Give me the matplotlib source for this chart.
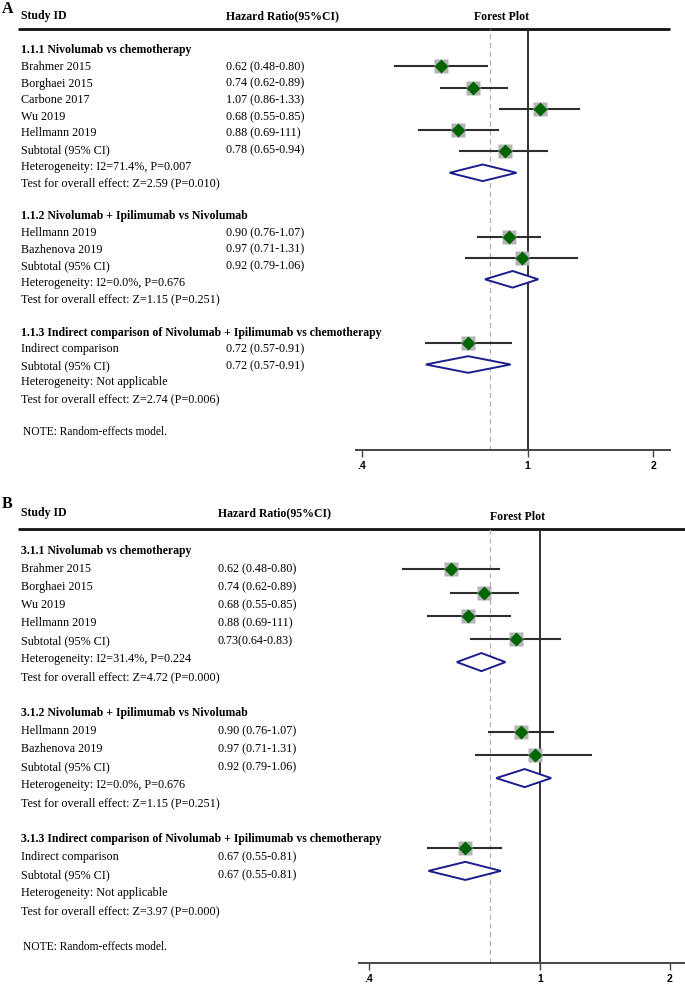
import numpy as np
import matplotlib
matplotlib.use('Agg')
import matplotlib.pyplot as plt

# panel A data
a_groups = ['1.1.1 Nivolumab vs chemotherapy',
            '1.1.2 Nivolumab + Ipilimumab vs Nivolumab',
            '1.1.3 Indirect comparison of Nivolumab + Ipilimumab vs chemotherapy']
a_studies = [['Brahmer 2015', 'Borghaei 2015', 'Carbone 2017', 'Wu 2019', 'Hellmann 2019'],
             ['Hellmann 2019', 'Bazhenova 2019'],
             ['Indirect comparison']]
a_hr = [[0.62, 0.74, 1.07, 0.68, 0.88], [0.90, 0.97], [0.72]]
a_lo = [[0.48, 0.62, 0.86, 0.55, 0.69], [0.76, 0.71], [0.57]]
a_hi = [[0.80, 0.89, 1.33, 0.85, 1.11], [1.07, 1.31], [0.91]]
a_labels = [['0.62 (0.48-0.80)', '0.74 (0.62-0.89)', '1.07 (0.86-1.33)', '0.68 (0.55-0.85)', '0.88 (0.69-111)'],
            ['0.90 (0.76-1.07)', '0.97 (0.71-1.31)'],
            ['0.72 (0.57-0.91)']]
a_sub_hr = [0.78, 0.92, 0.72]
a_sub_lo = [0.65, 0.79, 0.57]
a_sub_hi = [0.94, 1.06, 0.91]
a_sub_labels = ['0.78 (0.65-0.94)', '0.92 (0.79-1.06)', '0.72 (0.57-0.91)']
a_het = ['Heterogeneity: I2=71.4%, P=0.007', 'Heterogeneity: I2=0.0%, P=0.676', 'Heterogeneity: Not applicable']
a_test = ['Test for overall effect: Z=2.59 (P=0.010)', 'Test for overall effect: Z=1.15 (P=0.251)',
          'Test for overall effect: Z=2.74 (P=0.006)']
a_overall = 0.81

# panel B data
b_groups = ['3.1.1 Nivolumab vs chemotherapy',
            '3.1.2 Nivolumab + Ipilimumab vs Nivolumab',
            '3.1.3 Indirect comparison of Nivolumab + Ipilimumab vs chemotherapy']
b_studies = [['Brahmer 2015', 'Borghaei 2015', 'Wu 2019', 'Hellmann 2019'],
             ['Hellmann 2019', 'Bazhenova 2019'],
             ['Indirect comparison']]
b_hr = [[0.62, 0.74, 0.68, 0.88], [0.90, 0.97], [0.67]]
b_lo = [[0.48, 0.62, 0.55, 0.69], [0.76, 0.71], [0.55]]
b_hi = [[0.80, 0.89, 0.85, 1.11], [1.07, 1.31], [0.81]]
b_labels = [['0.62 (0.48-0.80)', '0.74 (0.62-0.89)', '0.68 (0.55-0.85)', '0.88 (0.69-111)'],
            ['0.90 (0.76-1.07)', '0.97 (0.71-1.31)'],
            ['0.67 (0.55-0.81)']]
b_sub_hr = [0.73, 0.92, 0.67]
b_sub_lo = [0.64, 0.79, 0.55]
b_sub_hi = [0.83, 1.06, 0.81]
b_sub_labels = ['0.73(0.64-0.83)', '0.92 (0.79-1.06)', '0.67 (0.55-0.81)']
b_het = ['Heterogeneity: I2=31.4%, P=0.224', 'Heterogeneity: I2=0.0%, P=0.676', 'Heterogeneity: Not applicable']
b_test = ['Test for overall effect: Z=4.72 (P=0.000)', 'Test for overall effect: Z=1.15 (P=0.251)',
          'Test for overall effect: Z=3.97 (P=0.000)']
b_overall = 0.766

ticks = [0.4, 1, 2]
ticklabels = ['.4', '1', '2']

#Configuration variables
W, H = 685, 985
serif = 'Liberation Serif'
textfs = 8.7
boldfs = 8.5
panelfs = 11.5
tickfs = 7.5
base_off = 4.0
green = '#006400'
navy = '#1c1c8c'
grey_box = '#b4b4b4'
ci_col = '#2e2e2e'

fig = plt.figure(figsize=(W / 100.0, H / 100.0), dpi=100)
ov = fig.add_axes([0, 0, 1, 1])
ov.set_xlim(0, W)
ov.set_ylim(H, 0)
ov.axis('off')
ov.patch.set_alpha(0)


def txt(x, y, s, bold=False, size=None, **kw):
    if size is None:
        size = boldfs if bold else textfs
    ov.text(x, y + base_off, s, fontsize=size, fontweight='bold' if bold else 'normal',
            family=serif, va='baseline', **kw)


def panel(letter, groups, studies, hr, lo, hi, labels, sub_hr, sub_lo, sub_hi, sub_labels,
          het, test, overall, cfg):
    txt(cfg['letter_xy'][0], cfg['letter_xy'][1], letter, bold=True, size=panelfs)
    txt(cfg['col1'], cfg['head_y'], 'Study ID', bold=True)
    txt(cfg['col2'], cfg['head_y'], 'Hazard Ratio(95%CI)', bold=True)
    txt(cfg['fp_x'], cfg['fp_y'], 'Forest Plot', bold=True, ha='center')
    ov.plot([18, cfg['right']], [cfg['line_y'], cfg['line_y']], color='#111111', lw=2.0,
            solid_capstyle='butt')

    # text column
    t = -1
    y0, dy = cfg['text_y0'], cfg['text_dy']
    for g in range(len(groups)):
        txt(cfg['col1'], y0 + t * dy, groups[g], bold=True)
        t += 1
        for i in range(len(studies[g])):
            txt(cfg['col1'], y0 + t * dy, studies[g][i])
            txt(cfg['col2'], y0 + t * dy, labels[g][i])
            t += 1
        txt(cfg['col1'], y0 + t * dy, 'Subtotal (95% CI)')
        txt(cfg['col2'], y0 + t * dy, sub_labels[g])
        t += 1
        txt(cfg['col1'], y0 + t * dy, het[g])
        t += 1
        txt(cfg['col1'], y0 + t * dy, test[g])
        t += 2
    txt(cfg['col1'] + 2, y0 + t * dy, 'NOTE: Random-effects model.', size=textfs - 0.4)

    # forest column
    l, r, tp, bt = cfg['fbox']
    ax = fig.add_axes([l / W, 1 - bt / H, (r - l) / W, (bt - tp) / H])
    ax.patch.set_alpha(0)
    ax.set_xscale('log')
    ax.set_xlim(cfg['xlim'])
    ax.set_ylim(cfg['ylim'])
    ax.axvline(1, color='#222222', lw=1.3, zorder=1)
    ax.axvline(overall, color='#b0b0b0', lw=0.9, ls=(0, (4, 3)), zorder=1)
    k = 0
    for g in range(len(groups)):
        for i in range(len(studies[g])):
            ax.plot([lo[g][i], hi[g][i]], [k, k], color=ci_col, lw=1.5, zorder=2)
            ax.plot(hr[g][i], k, 's', color=grey_box, markersize=9.5, mec='none', zorder=3)
            ax.plot(hr[g][i], k, 'D', color=green, markersize=6.8, mec='none', zorder=4)
            k += 1
        ax.fill([sub_lo[g], sub_hr[g], sub_hi[g], sub_hr[g]], [k, k - 0.39, k, k + 0.39],
                facecolor='white', edgecolor=navy, lw=1.4, zorder=3)
        k += 3
    for s in ['top', 'left', 'right']:
        ax.spines[s].set_visible(False)
    ax.spines['bottom'].set_color('#444444')
    ax.spines['bottom'].set_linewidth(1.4)
    ax.set_yticks([])
    ax.set_xticks(ticks)
    ax.set_xticklabels(ticklabels, fontweight='bold', fontsize=tickfs, family='Liberation Sans')
    ax.minorticks_off()
    ax.tick_params(axis='x', direction='out', length=5, width=1.0, color='#444444', pad=3)
    return ax


cfgA = dict(letter_xy=(2, 9), col1=21, col2=226, head_y=15, fp_x=502, fp_y=16, line_y=29, right=670,
            text_y0=66, text_dy=16.6, fbox=(356, 670, 29, 450),
            xlim=(0.3877, 2.193), ylim=((450 - 66.3) / 21.3, (29 - 66.3) / 21.3))
cfgB = dict(letter_xy=(2, 504), col1=21, col2=218, head_y=512, fp_x=518, fp_y=516, line_y=529, right=685,
            text_y0=568, text_dy=18, fbox=(359.3, 685, 529, 963.3),
            xlim=(0.380, 2.168), ylim=((963.3 - 569.3) / 23.2, (529 - 569.3) / 23.2))

panel('A', a_groups, a_studies, a_hr, a_lo, a_hi, a_labels, a_sub_hr, a_sub_lo, a_sub_hi, a_sub_labels,
      a_het, a_test, a_overall, cfgA)
panel('B', b_groups, b_studies, b_hr, b_lo, b_hi, b_labels, b_sub_hr, b_sub_lo, b_sub_hi, b_sub_labels,
      b_het, b_test, b_overall, cfgB)

fig.savefig('out.png', dpi=100)
